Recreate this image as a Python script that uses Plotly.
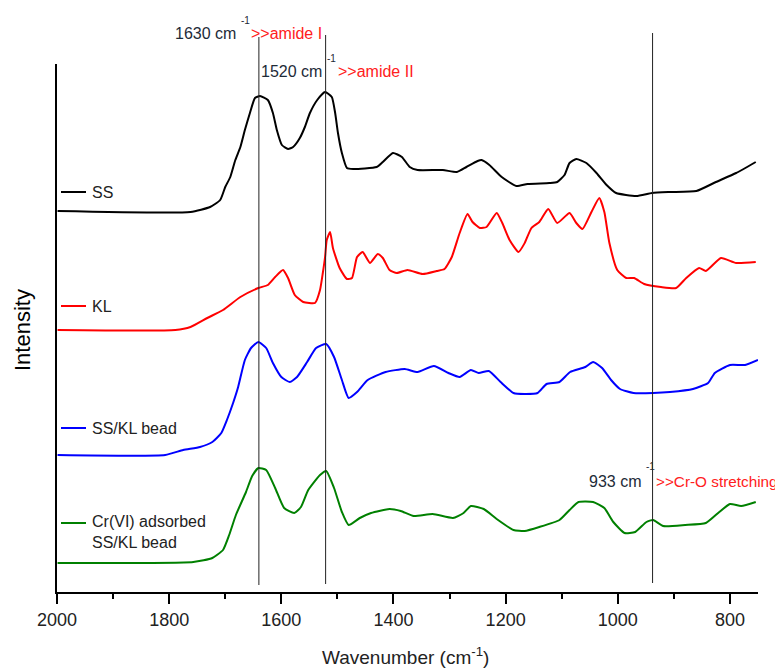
import plotly.graph_objects as go

# ---------------- data ----------------
ss_wn = [1999, 1762, 1727, 1709, 1700, 1691, 1682, 1673, 1665, 1656, 1647, 1638, 1624, 1615, 1608,
         1599, 1588, 1579, 1567, 1558, 1549, 1536, 1522, 1510, 1504, 1499, 1492, 1483, 1472, 1430,
         1419, 1401, 1385, 1371, 1357, 1312, 1287, 1270, 1250, 1243, 1229, 1207, 1181, 1161, 1122,
         1108, 1095, 1086, 1074, 1056, 1038, 1020, 1003, 967, 939, 908, 860, 825, 789, 754]
ss_int = [3.81, 3.80, 3.85, 3.92, 4.05, 4.15, 4.32, 4.45, 4.62, 4.79, 4.94, 4.96, 4.92, 4.79, 4.62,
          4.47, 4.43, 4.45, 4.54, 4.65, 4.79, 4.92, 5.00, 4.95, 4.79, 4.59, 4.39, 4.24, 4.23, 4.25,
          4.30, 4.39, 4.35, 4.25, 4.22, 4.22, 4.20, 4.25, 4.31, 4.32, 4.27, 4.15, 4.06, 4.08, 4.09,
          4.10, 4.17, 4.29, 4.33, 4.29, 4.19, 4.07, 3.99, 3.96, 3.99, 4.00, 4.01, 4.10, 4.19, 4.30]

kl_wn = [1999, 1789, 1762, 1732, 1704, 1673, 1641, 1624, 1611, 1597, 1588, 1576, 1561, 1540, 1531,
         1526, 1522, 1519, 1513, 1508, 1496, 1483, 1474, 1465, 1455, 1442, 1428, 1419, 1407, 1394,
         1375, 1348, 1323, 1309, 1296, 1282, 1268, 1259, 1246, 1234, 1216, 1206, 1193, 1177, 1166,
         1154, 1140, 1124, 1108, 1086, 1074, 1063, 1047, 1033, 1024, 1015, 1001, 985, 971, 953,
         923, 896, 878, 855, 843, 816, 789, 754]
kl_int = [2.62, 2.62, 2.65, 2.74, 2.82, 2.95, 3.04, 3.07, 3.15, 3.22, 3.14, 2.97, 2.90, 2.89, 3.02,
          3.19, 3.35, 3.52, 3.60, 3.44, 3.24, 3.13, 3.14, 3.35, 3.40, 3.29, 3.38, 3.34, 3.22, 3.19,
          3.22, 3.18, 3.21, 3.23, 3.35, 3.59, 3.78, 3.70, 3.64, 3.65, 3.79, 3.69, 3.52, 3.40, 3.49,
          3.64, 3.70, 3.83, 3.69, 3.79, 3.69, 3.63, 3.80, 3.94, 3.80, 3.49, 3.22, 3.14, 3.14, 3.08,
          3.05, 3.04, 3.14, 3.24, 3.21, 3.34, 3.29, 3.30]

bead_wn = [1999, 1807, 1775, 1745, 1723, 1707, 1697, 1686, 1677, 1665, 1654, 1641, 1627, 1615, 1600,
           1585, 1572, 1554, 1538, 1520, 1506, 1492, 1480, 1465, 1446, 1414, 1380, 1357, 1328, 1302,
           1282, 1262, 1248, 1230, 1209, 1186, 1166, 1143, 1127, 1104, 1085, 1058, 1044, 1028, 1012,
           996, 972, 937, 907, 866, 839, 827, 800, 773, 750]
bead_int = [1.37, 1.37, 1.42, 1.45, 1.50, 1.59, 1.72, 1.89, 2.05, 2.32, 2.44, 2.50, 2.44, 2.29, 2.15,
            2.10, 2.15, 2.30, 2.44, 2.48, 2.35, 2.12, 1.94, 2.00, 2.12, 2.20, 2.23, 2.20, 2.26, 2.19,
            2.15, 2.22, 2.19, 2.21, 2.10, 1.99, 1.98, 1.99, 2.08, 2.10, 2.20, 2.25, 2.30, 2.24, 2.12,
            2.03, 1.99, 1.99, 2.00, 2.03, 2.09, 2.19, 2.27, 2.27, 2.32]

cr_wn = [1999, 1757, 1723, 1704, 1693, 1681, 1663, 1652, 1641, 1627, 1611, 1595, 1577, 1565, 1552,
         1531, 1520, 1506, 1492, 1480, 1460, 1440, 1407, 1387, 1364, 1330, 1294, 1275, 1262, 1239,
         1216, 1186, 1166, 1140, 1104, 1086, 1070, 1044, 1024, 1008, 988, 969, 949, 937, 919,
         880, 843, 819, 800, 780, 754]
cr_int = [0.29, 0.30, 0.34, 0.42, 0.57, 0.77, 1.00, 1.16, 1.24, 1.22, 1.04, 0.84, 0.79, 0.85, 1.02,
          1.17, 1.21, 1.04, 0.80, 0.67, 0.74, 0.79, 0.83, 0.81, 0.76, 0.78, 0.74, 0.79, 0.86, 0.83,
          0.73, 0.62, 0.61, 0.65, 0.72, 0.82, 0.90, 0.90, 0.84, 0.70, 0.59, 0.60, 0.70, 0.72, 0.66,
          0.67, 0.69, 0.80, 0.88, 0.86, 0.90]

series_names = ["SS", "KL", "SS/KL bead", "Cr(VI) adsorbed<br>SS/KL bead"]
series_colors = ["#000000", "#ff0000", "#0000ff", "#008000"]

marker_lines = [1640, 1521, 938]
marker_labels = ["1630 cm", "1520 cm", "933 cm"]
marker_notes = [">>amide I", ">>amide II", ">>Cr-O stretching"]

x_ticks = [2000, 1800, 1600, 1400, 1200, 1000, 800]

# ---------------- figure ----------------
# the page body adds an 8px margin, so the figure is made 8px smaller
OFF = 8
W, H = 783 - OFF, 670 - OFF
L, R, T, B = 57 - OFF, 25, 64 - OFF, 78
PLOT_X0, PLOT_X1, PLOT_Y0, PLOT_Y1 = 57, 758, 64, 592  # in screenshot pixels


def px(xp):
    return (xp - PLOT_X0) / (PLOT_X1 - PLOT_X0)


def py(yp):
    return (PLOT_Y1 - yp) / (PLOT_Y1 - PLOT_Y0)


fig = go.Figure()
all_series = [(ss_wn, ss_int), (kl_wn, kl_int), (bead_wn, bead_int), (cr_wn, cr_int)]
for (xs, ys), name, col in zip(all_series, series_names, series_colors):
    fig.add_trace(go.Scatter(x=xs, y=ys, mode="lines", name=name,
                             line=dict(color=col, width=2, shape="spline", smoothing=0.5),
                             showlegend=False))

shapes = []
line_tops = [37, 35, 33]
line_bottoms = [585, 584, 583]
for xv, yt, yb in zip(marker_lines, line_tops, line_bottoms):
    shapes.append(dict(type="line", xref="x", yref="paper", x0=xv, x1=xv,
                       y0=py(yb), y1=py(yt), line=dict(color="#222222", width=1)))

# pseudo-legend line segments
leg_y = [192, 306, 428, 523]
leg_text_y = [192, 306, 428, 532]
for yv, col in zip(leg_y, series_colors):
    shapes.append(dict(type="line", xref="paper", yref="paper", x0=px(61), x1=px(86),
                       y0=py(yv), y1=py(yv), line=dict(color=col, width=2)))

annotations = []
txt_font = "Liberation Sans, Arial, sans-serif"
for name, yv in zip(series_names, leg_text_y):
    annotations.append(dict(xref="paper", yref="paper", x=px(90), y=py(yv), text=name,
                            showarrow=False, xanchor="left", yanchor="middle", align="left",
                            font=dict(family=txt_font, size=16, color="#222222")))

label_right = [238, 324, 643]
label_y = [33, 72, 481]
sup_y = [20, 59, 467]
note_left = [249, 336, 654]
note_sizes = [16, 16, 15.3]
for lab, note, xr, yl, ys, xn, ns in zip(marker_labels, marker_notes, label_right, label_y,
                                         sup_y, note_left, note_sizes):
    annotations.append(dict(xref="paper", yref="paper", x=px(xr), y=py(yl), text=lab,
                            showarrow=False, xanchor="right", yanchor="middle",
                            font=dict(family=txt_font, size=16, color="#1e2b38")))
    annotations.append(dict(xref="paper", yref="paper", x=px(xr + 1), y=py(ys), text="-1",
                            showarrow=False, xanchor="left", yanchor="middle",
                            font=dict(family=txt_font, size=10, color="#1e2b38")))
    annotations.append(dict(xref="paper", yref="paper", x=px(xn), y=py(yl), text=note,
                            showarrow=False, xanchor="left", yanchor="middle",
                            font=dict(family=txt_font, size=ns, color="#ff2020")))

# axis titles
annotations.append(dict(xref="paper", yref="paper", x=px(22), y=py(330), text="Intensity",
                        textangle=-90, showarrow=False, xanchor="center", yanchor="middle",
                        font=dict(family=txt_font, size=22, color="#000000")))
annotations.append(dict(xref="paper", yref="paper", x=px(405), y=py(656),
                        text="Wavenumber (cm<sup>-1</sup>)", showarrow=False,
                        xanchor="center", yanchor="middle",
                        font=dict(family=txt_font, size=19, color="#222222")))

fig.update_layout(
    width=W, height=H,
    margin=dict(l=L, r=R, t=T, b=B, pad=0),
    paper_bgcolor="white", plot_bgcolor="white",
    shapes=shapes, annotations=annotations,
    xaxis=dict(range=[2000, 750], tickvals=x_ticks, ticktext=[str(v) for v in x_ticks],
               showgrid=False, zeroline=False, showline=True, linecolor="black", linewidth=2,
               ticks="outside", ticklen=10, tickwidth=1.5, tickcolor="black",
               minor=dict(dtick=100, tick0=2000, ticks="outside", ticklen=5, tickwidth=1.5,
                          tickcolor="black"),
               tickfont=dict(family=txt_font, size=18, color="#222222")),
    yaxis=dict(range=[0, (PLOT_Y1 - PLOT_Y0) / 100], showgrid=False, zeroline=False,
               showline=True, linecolor="black", linewidth=2, showticklabels=False, ticks=""),
)

fig.write_html("out.html")
